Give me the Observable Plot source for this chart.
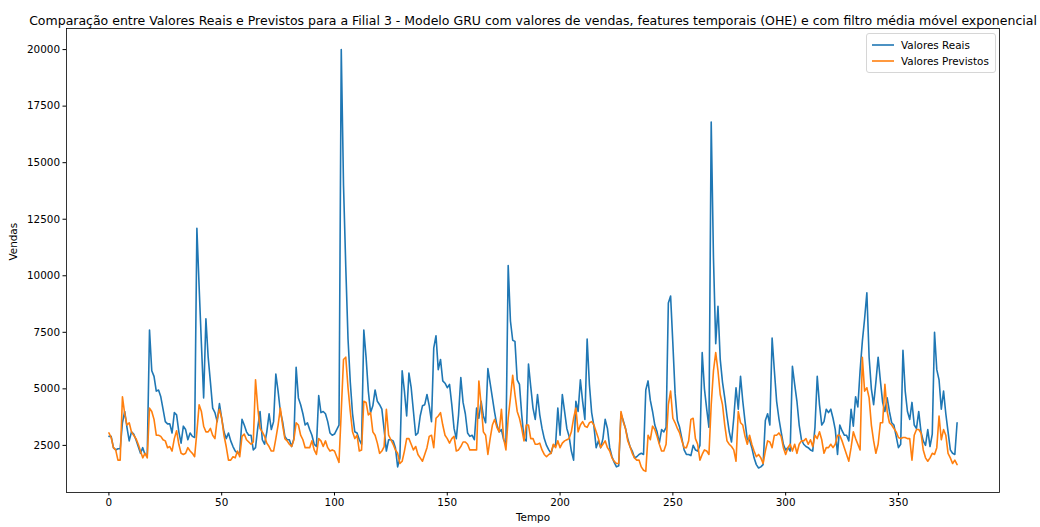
<!DOCTYPE html>
<html>
<head>
<meta charset="utf-8">
<script src="https://cdn.jsdelivr.net/npm/d3@7"></script>
<script src="https://cdn.jsdelivr.net/npm/@observablehq/plot@0.6"></script>
<style>
  html, body { margin: 0; padding: 0; background: #fff; }
  #wrap { position: relative; width: 1040px; height: 527px; font-family: "DejaVu Sans", sans-serif; }
  #legend { position: absolute; left: 866px; top: 33px; width: 128px; padding: 3px 0 3px 0;
            border: 1px solid #d6d6d6; border-radius: 3px; background: rgba(255,255,255,0.8);
            font-size: 10.4px; color: #000; }
  .row { display: flex; align-items: center; height: 16px; }
  .sw { display: block; margin-left: 5px; margin-right: 7px; }
</style>
</head>
<body>
<div id="wrap"></div>
<script>
const titulo = "Comparação entre Valores Reais e Previstos para a Filial 3 - Modelo GRU com valores de vendas, features temporais (OHE) e com filtro média móvel exponencial";
const series = ["Valores Reais", "Valores Previstos"];
const cores = ["#1f77b4", "#ff7f0e"];
const xTicks = [0, 50, 100, 150, 200, 250, 300, 350];
const yTicks = [2500, 5000, 7500, 10000, 12500, 15000, 17500, 20000];

const valoresReais = [
2900,2900,2400,2300,2350,2350,3500,4000,3300,2700,
3100,3000,2750,2450,2150,2400,2100,2100,7600,5800,
5550,4900,4950,4650,4100,3550,3450,3450,3050,3950,
3850,3100,2600,3350,3200,2750,3050,2900,2850,12100,
9500,7000,4600,8100,6400,5300,4150,3950,3550,4350,
3700,3100,2800,3050,2700,2450,2250,2150,2200,3650,
3400,3100,2950,2950,2300,2400,3300,4000,2750,2550,
3100,3900,3200,3550,5650,4900,4000,3550,2900,2750,
2750,2450,2800,5950,4600,4300,3900,3400,3500,3200,
2950,2550,2450,4700,3950,4000,3900,3550,3050,2950,
3000,3200,3400,20000,14000,10400,7200,5300,3900,3100,
3050,2750,2550,7600,6400,4900,3950,4250,4950,4450,
4300,4100,3200,2250,2750,2750,2700,2400,1550,1950,
5800,4900,3800,5700,5050,4000,2950,3050,3800,4250,
4300,4750,4250,3550,6800,7350,5850,6300,5350,5250,
5050,5200,4300,3250,2800,3850,5500,4400,3900,3050,
2900,2950,2750,4150,3700,4450,3800,3500,5900,5250,
4600,3950,3400,3100,3200,2750,2550,10450,8000,7150,
7100,5400,5200,3850,2800,2700,6100,5100,4150,3650,
4750,3850,3250,2800,2500,2300,2150,2500,2500,4150,
2950,4750,4000,3250,2900,2250,1850,4450,4000,5400,
4450,3650,7200,5200,3950,3350,2400,2700,2400,2800,
3650,3250,2400,2000,1750,1550,1600,3900,3600,3250,
2800,2450,2250,1950,2000,2100,2150,2100,4950,5350,
4500,4000,3400,3100,2600,3200,3100,3300,8800,9100,
7000,4800,3600,3300,2800,2300,2100,2100,2050,2500,
2300,2250,2500,6600,5000,4100,3300,16800,10800,7000,
8650,6300,5300,4600,3800,3100,2650,3700,5050,4100,
5550,4450,3550,2750,2750,2400,1950,1650,1500,1550,
1650,3600,3900,3400,7250,5800,4450,3700,3100,2550,
2300,2400,2250,6000,5200,4450,3400,2750,2550,2450,
2400,2300,2250,3300,5550,4300,3400,3550,4100,3950,
4100,3700,3200,2100,3400,3150,2950,2950,2700,4100,
3350,4650,4200,5800,7100,8100,9250,6400,5000,4300,
5300,6400,5350,4400,4000,4600,4000,3500,3400,2900,
2400,2550,6700,4900,4000,3650,4400,3400,3250,4000,
3100,2700,2500,3200,2450,3000,7500,5850,5400,4100,
4900,3900,3100,2300,2150,2100,3500
];

const valoresPrevistos = [
3050,2850,2400,2300,1850,1850,4650,3900,3400,3500,
3100,2950,2800,2550,2250,1950,2150,1950,4150,4000,
3650,2950,2950,2900,2750,2700,2400,2450,2250,2800,
3150,2550,2150,2100,2150,2400,2250,2150,2000,3100,
4300,4000,3350,3100,3100,3250,2950,2800,3650,4100,
3700,2950,2450,1850,1850,2000,1950,2250,2000,2900,
3000,2750,2650,2550,2650,5400,4150,3250,3100,2900,
2600,2450,2250,2250,2800,3400,4150,3400,2800,2700,
2550,2450,2750,3500,3400,2950,2750,2400,2400,2400,
2700,2300,2100,2800,2700,2450,2700,2400,2250,2300,
2250,2000,1750,4000,6300,6400,5050,4000,3100,2800,
2950,2250,2300,4450,4400,3850,3950,3100,2950,2600,
2150,2250,2450,4100,2950,2750,2550,2300,2150,1700,
1800,2250,2800,2800,2550,2300,2450,2100,1950,1800,
2100,2400,2900,2950,2400,3700,3800,3950,3400,2950,
2800,2600,2800,2900,2250,2300,2450,2650,2650,2550,
2300,2300,2300,2300,5350,4300,3100,2950,2100,2800,
3400,3650,3300,3100,4100,2800,2300,3700,4600,5600,
4750,4000,3700,3250,2700,3400,3400,2800,2800,2550,
2550,2600,2300,2100,2000,2100,2150,2550,2400,2700,
2400,2600,2700,2750,2800,3100,3700,4150,3100,3400,
3550,3350,3300,3500,3550,3400,3100,2800,2400,2550,
2700,2400,2250,1950,1800,1700,1700,4000,3550,3250,
2700,2450,2150,1950,1850,1850,1550,1400,1350,2950,
2750,3350,3200,2900,2550,2250,2250,2550,4300,4900,
3700,3500,3250,3050,2700,2400,2400,2700,3650,3700,
2800,2550,1850,2100,2300,2250,2100,4300,5800,6600,
5800,4750,4300,3400,2700,2550,2450,2300,1800,4000,
3500,3400,2900,2550,2950,2550,2250,2000,2100,1950,
1700,2250,2700,2650,2400,2950,2950,3050,2900,2400,
2100,2400,2550,2250,2550,2150,2550,2700,2700,2800,
2550,2750,2450,2950,2800,3100,2750,2150,2400,2400,
2550,2400,2550,2950,2950,2700,2400,2100,1800,2400,
3100,2800,2550,2300,6400,4900,5050,4600,3400,2700,
2150,2550,3500,3500,5200,4000,3500,3400,3250,3100,
2850,2800,2850,2850,2800,2800,1850,2950,3200,3200,
3050,2300,1950,1800,1950,2150,2100,2400,3800,2750,
3200,2950,2150,1950,1700,1850,1650
];

const tempo = valoresReais.map((_, i) => i);
const n = tempo.length;
const xMin = 0, xMax = n - 1;
const allV = valoresReais.concat(valoresPrevistos);
const yMin = d3.min(allV), yMax = d3.max(allV);
const xPad = (xMax - xMin) * 0.05, yPad = (yMax - yMin) * 0.05;

const chart = Plot.plot({
  width: 1040,
  height: 527,
  marginLeft: 66,
  marginRight: 41,
  marginTop: 28,
  marginBottom: 35,
  style: { fontFamily: "DejaVu Sans, sans-serif", fontSize: "10.4px", color: "#000", background: "#fff", overflow: "visible" },
  x: { domain: [xMin - xPad, xMax + xPad] },
  y: { domain: [yMin - yPad, yMax + yPad] },
  marks: [
    Plot.lineY(valoresReais, { x: (d, i) => tempo[i], y: d => d, stroke: cores[0], strokeWidth: 1.6 }),
    Plot.lineY(valoresPrevistos, { x: (d, i) => tempo[i], y: d => d, stroke: cores[1], strokeWidth: 1.6 }),
    Plot.frame({ stroke: "#000", strokeWidth: 0.8 }),
    Plot.axisX({ ticks: xTicks, tickSize: 3.5, tickPadding: 3, tickFormat: d => String(d), label: null }),
    Plot.axisY({ ticks: yTicks, tickSize: 3.5, tickPadding: 3, tickFormat: d => String(d), label: null }),
    Plot.text(["Tempo"], { text: d => d, frameAnchor: "bottom", dy: 28, fontSize: 10.4 }),
    Plot.text(["Vendas"], { text: d => d, frameAnchor: "left", dx: -53, rotate: -90, fontSize: 10.4 }),
    Plot.text([titulo], { text: d => d, frameAnchor: "top", dy: -12, fontSize: 12.5 })
  ]
});

const wrap = document.getElementById("wrap");
wrap.appendChild(chart);
const leg = document.createElement("div");
leg.id = "legend";
const NS = "http://www.w3.org/2000/svg";
series.forEach((s, k) => {
  const r = document.createElement("div");
  r.className = "row";
  const sw = document.createElementNS(NS, "svg");
  sw.setAttribute("width", "22");
  sw.setAttribute("height", "6");
  sw.setAttribute("class", "sw");
  const ln = document.createElementNS(NS, "line");
  ln.setAttribute("x1", "0"); ln.setAttribute("x2", "22");
  ln.setAttribute("y1", "3"); ln.setAttribute("y2", "3");
  ln.setAttribute("stroke", cores[k]);
  ln.setAttribute("stroke-width", "1.6");
  sw.appendChild(ln);
  const t = document.createElement("span");
  t.textContent = s;
  r.appendChild(sw); r.appendChild(t);
  leg.appendChild(r);
});
wrap.appendChild(leg);
</script>
</body>
</html>
